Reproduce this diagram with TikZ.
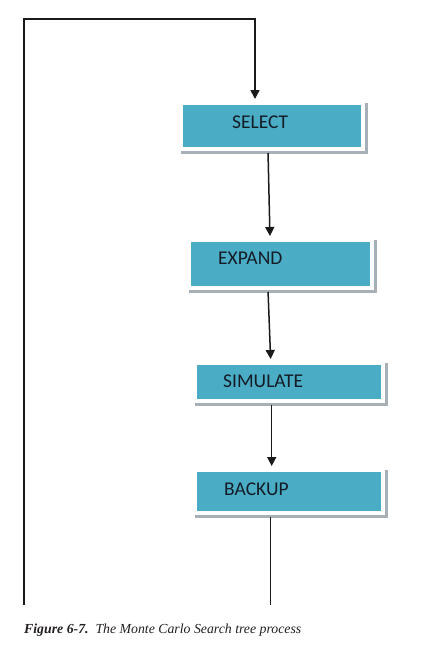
\documentclass[tikz,border=0pt]{standalone}
\usepackage{fontspec}
\setmainfont{Liberation Serif}
\newfontfamily\boxfont{Carlito}
\usetikzlibrary{arrows.meta}
\definecolor{stageblue}{HTML}{4BACC6}
\definecolor{framegray}{HTML}{DDE1E4}
\definecolor{shadowgray}{HTML}{A7B0B6}
\definecolor{stageink}{HTML}{141C26}
\definecolor{lineink}{HTML}{1A1A1A}
\definecolor{captionink}{HTML}{231F20}
\begin{document}
\begin{tikzpicture}[x=1pt,y=-1pt,
  stage/.style={rectangle, fill=stageblue, draw=white, line width=4pt, inner sep=0pt,
    preaction={draw=shadowgray, line width=5pt, transform canvas={xshift=2.5pt,yshift=-2.5pt}},
    preaction={draw=framegray, line width=4.8pt}},
  stagetext/.style={anchor=base west, inner sep=0pt, text=stageink,
    font=\boxfont\fontsize{19.5}{22}\selectfont},
  flow/.style={draw=lineink, line width=1.5pt, -{Triangle[length=9pt,width=9pt]}},
  tail/.style={draw=lineink, line width=1.5pt}]
\useasboundingbox (0,0) rectangle (428,657);
\node[stage, minimum width=182pt, minimum height=46pt] (select) at (272,126) {};
\node[stage, minimum width=183pt, minimum height=48pt] (expand) at (280.5,264) {};
\node[stage, minimum width=188pt, minimum height=38pt] (simulate) at (289,382) {};
\node[stage, minimum width=188pt, minimum height=43pt] (backup) at (289,491.5) {};
\node[stagetext] (selectlabel) at ([xshift=53pt,yshift=-2pt]select.west) {SELECT};
\node[stagetext] (expandlabel) at ([xshift=31pt]expand.west) {EXPAND};
\node[stagetext] (simulatelabel) at ([xshift=30pt,yshift=-5pt]simulate.west) {SIMULATE};
\node[stagetext] (backuplabel) at ([xshift=31pt,yshift=-3.5pt]backup.west) {BACKUP};
\coordinate (loopfoot) at (24,605);
\coordinate (loopcorner) at (24,19);
\coordinate (looptop) at (255,19);
\coordinate (tailfoot) at (270.7,605);
\draw[flow, shorten >=2pt] (loopfoot) -- (loopcorner) -- (looptop) -- (looptop |- select.north);
\draw[flow, shorten >=2pt, shorten <=2pt] ([xshift=-4pt]select.south) -- ([xshift=-10.5pt]expand.north);
\draw[flow, shorten >=2pt, shorten <=2pt] ([xshift=-12.5pt]expand.south) -- ([xshift=-18.3pt]simulate.north);
\draw[flow, shorten >=2pt, shorten <=2pt] ([xshift=-17.3pt]simulate.south) -- ([xshift=-17.3pt]backup.north);
\draw[tail, shorten <=2pt] ([xshift=-18.3pt]backup.south) -- (tailfoot);
\node[anchor=base west, inner sep=0pt, text=captionink,
  font=\fontsize{13.8}{16}\selectfont\itshape] (caption) at (24,633)
  {\textbf{Figure 6-7.}\hspace{0.5em}The Monte Carlo Search tree process};
\end{tikzpicture}
\end{document}
